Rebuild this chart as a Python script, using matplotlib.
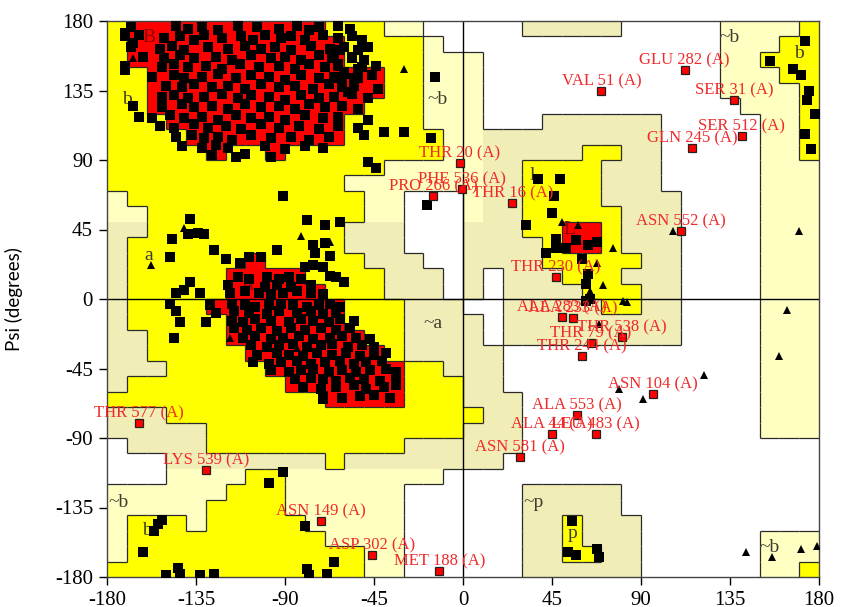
import matplotlib
matplotlib.use("Agg")
import matplotlib.pyplot as plt
import numpy as np
from matplotlib.collections import LineCollection
from matplotlib.colors import to_rgb

plt.rcParams['axes.unicode_minus'] = False

# Ramachandran region map in 10 degree cells.
# rows: psi 180 -> -180, columns: phi -180 -> 180
# r = core, y = allowed, p/q = generously allowed, . = disallowed
region_rows = [
    "yrrrrrrrrrryyypp.." + "...qqqqq.....ppppy",
    "yrrrrrrrrrrryyyyp." + ".............pppyy",
    "yrrrrrrrrrrryyyypp" + "p............ppyyy",
    "yyrrrrrrrrrrrryypp" + "p............pppyy",
    "yyrrrrrrrrrrrryypp" + "p............ppppy",
    "yyrrrrrrrrrrryyypp" + "p.............pppy",
    "yyyrrrrrrrrryyyypp" + "p...qqqqqq.....ppy",
    "yyyyrrrrrrrryyyyyp" + "pqqqqqqqqq.....ppy",
    "yyyyyryyryyyyyyyyp" + "pqqqqqyyqq.....ppy",
    "yyyyyyyyyyyyyypppp" + "pqqyyyyqqq.....ppp",
    "yyyyyyyyyyyypppppp" + "pqqyyyyqqq.....ppp",
    "pyyyyyyyyyyyypp..." + "pqqyyyyqqqq....ppp",
    "ppyyyyyyyyyyypp..." + "pqqyyyyyqqq....ppp",
    "qqyyyyyyyyyyqqq..." + "qqqyyrryqqq....ppp",
    "qyyyyyyyyyyyqqq..." + "qqqqyrryqqq....ppp",
    "qyyyyyyryyyyyqqq.." + "qqqqyyyyyqq....ppp",
    "qyyyyyrrrryyyyqqq." + "q.qqqyyyqqq....ppp",
    "qyyyyyrrrrryyyqqq." + "q.qqqqyyyqq....ppp",
    "qyyyyrrrrrrryyyqqq" + "..qqqqqyyqq....ppp",
    "qyyyyyrrrrrryyyqqq" + "q.qqqqqqqqq....ppp",
    "qqyyyyrrrrrrryyqqq" + "q.qqqqqqqqq....ppp",
    "qqyyyyyrrrrrrryqqq" + "qq.............ppp",
    "qqqyyyyyrrrrrrryyq" + "qq.............ppp",
    "qyyyyyyyyrrrrrryyy" + "qq.............ppp",
    "yyyyyyyyyyyrrrryyy" + "qqq............ppp",
    "qqqyyyyyyyyyyyyyyy" + "yqq............ppp",
    "qqqqqyyyyyyyyyyyyy" + "qqq............ppp",
    ".qqqqyyyyyyyyyyqqq" + "qqq...............",
    "...qqqqqqqqyqqqqqq" + "qq................",
    "...ppppyypppppppp." + "..................",
    "ppppppyyypppppp..." + "...qqqqq..........",
    "pppppyyyypppppp..." + "...qqqqq..........",
    "pyyypyyyyyppppp..." + "...qqyqqq.........",
    "pyyyyyyyyyypppp..." + "...qqyqqq......ppp",
    "pyyyyyyyyyyyypp..." + "...qqyyqq......ppp",
    "yyyyyyyyyyyyypp..." + "...qqqqqq......ppy",
]
assert all(len(r) == 36 for r in region_rows)

region_colors = {'r': '#ff0000', 'y': '#ffff00', 'p': '#ffffc2',
                 'q': '#f0edb6', '.': '#ffffff'}

# residues in the core regions (phi, psi)
core_b = [
    (-168, 176), (-145, 177), (-139, 175), (-132, 176), (-124, 174), (-114, 177), (-104, 176),
    (-93, 175), (-84, 177), (-78, 174), (-73, 176), (-63, 177), (-57, 175),
    (-171, 170), (-164, 171), (-151, 169), (-143, 170), (-136, 168), (-131, 171), (-122, 169),
    (-112, 170), (-106, 168), (-100, 171), (-92, 169), (-87, 170), (-80, 168), (-71, 171),
    (-63, 169), (-56, 170), (-51, 168),
    (-168, 163), (-153, 162), (-147, 164), (-141, 161), (-129, 163), (-119, 162), (-110, 164),
    (-102, 162), (-95, 163), (-87, 161), (-77, 164), (-67, 162), (-60, 163), (-53, 161), (-48, 163),
    (-162, 157), (-151, 156), (-143, 158), (-136, 156), (-125, 157), (-117, 155), (-107, 158),
    (-97, 156), (-90, 157), (-82, 155), (-73, 158), (-65, 156), (-56, 157), (-50, 155),
    (-171, 151), (-152, 150), (-146, 152), (-139, 150), (-130, 151), (-122, 149), (-113, 152),
    (-103, 150), (-93, 151), (-85, 149), (-78, 152), (-70, 150), (-63, 151), (-53, 149), (-44, 151),
    (-157, 144), (-146, 145), (-141, 143), (-132, 144), (-124, 146), (-115, 143), (-107, 145),
    (-98, 144), (-90, 142), (-82, 145), (-73, 143), (-65, 144), (-60, 146), (-53, 143), (-46, 145),
    (-150, 138), (-142, 137), (-136, 139), (-127, 137), (-119, 138), (-110, 136), (-102, 139),
    (-93, 137), (-85, 138), (-76, 136), (-68, 139), (-61, 137), (-55, 138), (-43, 136),
    (-152, 131), (-146, 132), (-139, 130), (-131, 131), (-122, 133), (-114, 130), (-107, 132),
    (-98, 131), (-90, 129), (-82, 132), (-73, 130), (-65, 131), (-56, 133), (-48, 130),
    (-167, 125), (-152, 124), (-142, 126), (-136, 124), (-127, 125), (-119, 123), (-110, 126),
    (-102, 124), (-93, 125), (-85, 123), (-78, 126), (-70, 124), (-61, 125), (-53, 123),
    (-164, 118), (-157, 117), (-148, 119), (-141, 117), (-132, 118), (-124, 116), (-115, 119),
    (-107, 117), (-98, 118), (-90, 116), (-80, 119), (-71, 117), (-63, 118), (-48, 116),
    (-153, 112), (-146, 111), (-136, 113), (-129, 111), (-120, 112), (-112, 110), (-102, 113),
    (-93, 111), (-83, 112), (-73, 110), (-63, 112), (-53, 111), (-40, 108),
    (-145, 105), (-137, 106), (-131, 104), (-124, 105), (-117, 103), (-107, 106), (-97, 104),
    (-87, 105), (-78, 103), (-68, 105), (-50, 106),
    (-142, 99), (-132, 98), (-125, 100), (-119, 98), (-100, 99), (-90, 97), (-80, 99), (-71, 98),
    (-127, 93), (-115, 92), (-110, 94), (-97, 92), (-48, 89), (-44, 85),
    (-66, 156), (-63, 152), (-60, 147), (-65, 143), (-61, 139), (-58, 134), (-55, 143),
    (-51, 150), (-56, 156), (-62, 161),
    (-171, 172), (-167, 166), (-171, 148), (-14, 144), (-30, 108), (-16, 104),
]

core_a = [
    (-114, 14), (-108, 13), (-99, 14), (-93, 13), (-88, 14), (-82, 13),
    (-119, 9), (-100, 8), (-94, 9), (-87, 8), (-77, 9),
    (-118, 4), (-110, 5), (-103, 4), (-97, 3), (-91, 4), (-84, 5), (-77, 4), (-71, 3),
    (-128, -4), (-117, -3), (-110, -4), (-105, -5), (-98, -4), (-92, -3), (-86, -4), (-79, -5),
    (-73, -4), (-67, -3), (-62, -5),
    (-125, -9), (-116, -8), (-108, -9), (-99, -10), (-93, -8), (-84, -9), (-77, -8), (-71, -10),
    (-64, -9),
    (-117, -14), (-111, -15), (-105, -13), (-97, -14), (-88, -15), (-82, -13), (-76, -14),
    (-68, -15), (-62, -13), (-55, -14),
    (-116, -19), (-109, -20), (-102, -19), (-94, -21), (-87, -19), (-80, -20), (-72, -19),
    (-64, -20), (-57, -19),
    (-111, -25), (-105, -24), (-97, -26), (-91, -25), (-83, -24), (-76, -26), (-67, -25),
    (-61, -24), (-54, -25), (-47, -26),
    (-107, -30), (-99, -31), (-93, -30), (-86, -29), (-79, -31), (-72, -30), (-66, -29),
    (-58, -31), (-51, -30), (-45, -31),
    (-104, -36), (-94, -35), (-88, -36), (-81, -37), (-74, -35), (-66, -36), (-59, -35),
    (-52, -37), (-45, -36), (-39, -35),
    (-106, -41), (-98, -42), (-92, -41), (-84, -40), (-77, -42), (-70, -41), (-62, -40),
    (-55, -42), (-49, -41), (-41, -40),
    (-97, -46), (-88, -47), (-82, -46), (-76, -45), (-68, -47), (-61, -46), (-54, -47),
    (-47, -46), (-39, -45), (-34, -47),
    (-85, -52), (-77, -51), (-71, -52), (-64, -53), (-57, -51), (-50, -52), (-42, -53), (-34, -51),
    (-81, -57), (-72, -58), (-64, -57), (-55, -56), (-49, -58), (-40, -57), (-34, -56),
    (-71, -63), (-61, -64), (-52, -63), (-45, -62), (-37, -64),
]

other_res = [
    (-91, 67), (-138, 52), (-79, 51), (-70, 48), (-62, 50), (-139, 42), (-134, 43), (-131, 42),
    (-147, 39), (-76, 35), (-70, 36), (-94, 32), (-126, 32), (-148, 27), (-120, 26), (-113, 23),
    (-75, 30), (-67, 28), (-108, 27), (-102, 27), (-80, 21), (-76, 22), (-71, 21), (-67, 15),
    (-64, 14), (-60, 11), (-138, 11), (-141, 6), (-133, 4), (-145, 4), (-18, 61),
    (-148, -3), (-145, -8), (-143, -15), (-146, -25), (-130, -15), (-71, -65),
    (38, 78), (49, 78), (46, 67), (45, 56), (32, 48), (47, 39), (57, 38), (68, 37), (63, 35),
    (52, 33), (42, 30), (47, 33), (60, 26), (63, 16), (62, 10), (64, 0), (62, -1),
    (155, 154), (173, 167), (167, 149), (171, 145), (175, 135), (174, 129), (178, 120),
    (173, 107), (176, 97),
    (-91, -112), (-98, -119), (-152, -143), (-154, -146), (-156, -150), (-162, -164),
    (-150, -179), (-144, -174), (-143, -178), (-133, -179), (-126, -178), (-80, -147),
    (-79, -175), (-78, -179), (-69, -178), (-65, -170),
    (55, -144), (53, -164), (57, -166), (68, -162), (69, -167),
]

glycine = [
    (-167, 156), (-30, 149), (-141, 46), (-82, 41), (-67, 37), (-158, 22), (-118, -25), (-84, -32),
    (50, 50), (58, 48), (76, 33), (68, 23), (71, 9), (64, 5), (81, -1), (83, -2), (69, -16),
    (106, 44), (170, 44), (164, -7), (160, -37), (79, -58), (91, -65), (122, -49),
    (143, -164), (156, -167), (171, -162), (179, -160),
]

# residues outside the allowed regions, labelled in red
out_names = ["THR 20 (A)", "PHE 536 (A)", "PRO 266 (A)", "THR 16 (A)", "GLU 282 (A)",
             "VAL 51 (A)", "SER 31 (A)", "SER 512 (A)", "GLN 245 (A)", "ASN 552 (A)",
             "THR 230 (A)", "ALA 283 (A)", "ALA 233 (A)", "THR 538 (A)", "THR 79 (A)",
             "THR 244 (A)", "ASN 104 (A)", "ALA 553 (A)", "ALA 44 (A)", "LEU 483 (A)",
             "ASN 581 (A)", "THR 577 (A)", "LYS 539 (A)", "ASN 149 (A)", "ASP 302 (A)",
             "MET 188 (A)"]
out_phi = [-1.5, -0.7, -15, 25, 112, 70, 137, 141, 116, 110, 47, 50, 55.5, 80.5, 64.5,
           60, 96, 57.5, 45, 67, 29, -164, -130, -72, -46, -12]
out_psi = [88, 71, 67, 62, 148, 135, 129, 105.5, 98, 44, 14, -11.5, -12, -24.5, -28.7,
           -37, -61.5, -75, -87.5, -87.5, -102, -80, -111, -144, -166, -176]

# region letters
region_text = ["B", "b", "A", "a", "~a", "~b", "~b", "b", "L", "l", "~p", "p", "~b", "~b", "b"]
region_phi = [-159, -170, -109, -159, -15, -13, 135, 170, 54, 35, 35.5, 55.5, 155, -174, -160]
region_psi = [169, 129, 9, 28, -16, 129, 169, 159, 45, 80, -132, -152, -161, -132, -150]

ticks = [-180, -135, -90, -45, 0, 45, 90, 135, 180]

fig = plt.figure(figsize=(8.41, 6.07), dpi=100)
ax = fig.add_axes([107 / 841, 30 / 607, 712 / 841, 556 / 607])

img = np.array([[to_rgb(region_colors[c]) for c in row] for row in region_rows])
ax.imshow(img, extent=(-180, 180, -180, 180), origin='upper', aspect='auto',
          interpolation='nearest', zorder=0)

# outline the region boundaries
kind = {'r': 3, 'y': 2, 'p': 1, 'q': 1, '.': 0}
segs = []
for i, row in enumerate(region_rows):
    for j, c in enumerate(row):
        x0, y1 = -180 + 10 * j, 180 - 10 * i
        if j < 35 and kind[c] != kind[row[j + 1]]:
            segs.append([(x0 + 10, y1 - 10), (x0 + 10, y1)])
        if i < 35 and kind[c] != kind[region_rows[i + 1][j]]:
            segs.append([(x0, y1 - 10), (x0 + 10, y1 - 10)])
ax.add_collection(LineCollection(segs, colors='#2a2a2a', linewidths=0.9, zorder=1))

ax.axhline(0, color='black', lw=1.0, zorder=2)
ax.axvline(0, color='black', lw=1.0, zorder=2)

for t, x, y in zip(region_text, region_phi, region_psi):
    col = '#8b0000' if t in ("A", "B", "L") else '#3c3c30'
    ax.text(x, y, t, color=col, fontsize=14, family='Liberation Serif',
            ha='center', va='center', zorder=2)

pts = np.array(core_b + core_a + other_res)
ax.plot(pts[:, 0], pts[:, 1], 's', color='black', ms=7.1, mew=0, zorder=3)
g = np.array(glycine)
ax.plot(g[:, 0], g[:, 1], '^', color='black', ms=6, mew=0, zorder=3)

ax.plot(out_phi, out_psi, 's', mfc='#ff0000', mec='#222222', mew=0.9, ms=5.8, zorder=4)
for name, x, y in zip(out_names, out_phi, out_psi):
    ax.annotate(name, (x, y), xytext=(0, 4), textcoords='offset points',
                ha='center', va='baseline', color='#f02a2a', fontsize=12,
                family='Liberation Serif', zorder=5)

ax.set_xlim(-180, 180)
ax.set_ylim(-180, 180)
ax.set_xticks(ticks)
ax.set_yticks(ticks)
ax.tick_params(direction='out', length=6, width=1, pad=4, labelsize=15)
for lab in ax.get_xticklabels() + ax.get_yticklabels():
    lab.set_family('Liberation Serif')
for s in ax.spines.values():
    s.set_color('#444444')
    s.set_linewidth(1)

ax.set_ylabel('Psi (degrees)', family='Lato', fontsize=13.5)
ax.yaxis.set_label_coords(-0.118, 0.5)

fig.savefig('out.png', dpi=100)
